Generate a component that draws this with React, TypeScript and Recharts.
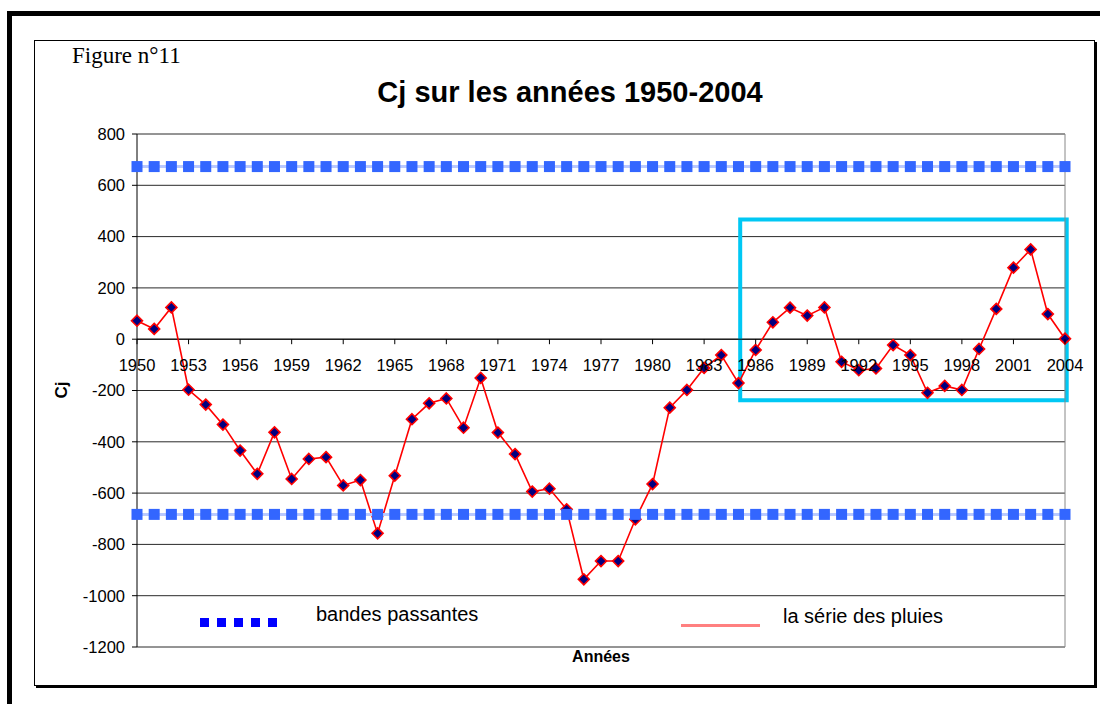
import React from "react"
import { LineChart, Line, XAxis, YAxis, CartesianGrid, ReferenceLine, ReferenceArea } from "recharts"

// years of the series
const years = [
  1950, 1951, 1952, 1953, 1954, 1955, 1956, 1957, 1958, 1959,
  1960, 1961, 1962, 1963, 1964, 1965, 1966, 1967, 1968, 1969,
  1970, 1971, 1972, 1973, 1974, 1975, 1976, 1977, 1978, 1979,
  1980, 1981, 1982, 1983, 1984, 1985, 1986, 1987, 1988, 1989,
  1990, 1991, 1992, 1993, 1994, 1995, 1996, 1997, 1998, 1999,
  2000, 2001, 2002, 2003, 2004,
]

// Cj values
const cjValues = [
  72, 40, 124, -197, -255, -333, -434, -525, -363, -545,
  -467, -460, -570, -549, -757, -532, -312, -250, -231, -345,
  -151, -364, -448, -594, -583, -663, -936, -865, -865, -702,
  -565, -267, -198, -112, -62, -171, -42, 66, 123, 92,
  124, -88, -121, -114, -23, -62, -209, -182, -198, -38,
  118, 279, 350, 98, 2,
]

// bandes passantes (upper / lower limits)
const bandUpper = 673
const bandLower = -683

const xTicks = [1950, 1953, 1956, 1959, 1962, 1965, 1968, 1971, 1974, 1977, 1980, 1983, 1986, 1989, 1992, 1995, 1998, 2001, 2004]
const yTicks = [800, 600, 400, 200, 0, -200, -400, -600, -800, -1000, -1200]

// highlighted period (cyan box)
const boxYears = [1985.1, 2004.1]
const boxCj = [467, -238]

const data = years.map((year, i) => ({
  year,
  cj: cjValues[i],
  upper: bandUpper,
  lower: bandLower,
}))

const FONT = "'Liberation Sans', Arial, sans-serif"
const PLOT_TOP = 134
const PLOT_BOTTOM = 647
const Y_MAX = 800
const Y_MIN = -1200
// pixel row of the zero line, where the year labels hang
const zeroY = PLOT_TOP + ((PLOT_BOTTOM - PLOT_TOP) * Y_MAX) / (Y_MAX - Y_MIN)

const Diamond = (props: any) => {
  const { cx, cy, index } = props
  if (cx == null || cy == null) return <g key={index} />
  const r = 5.5
  return (
    <polygon
      key={index}
      points={`${cx},${cy - r} ${cx + r},${cy} ${cx},${cy + r} ${cx - r},${cy}`}
      fill="#000080"
      stroke="#ff0000"
      strokeWidth={1.6}
    />
  )
}

const Square = (props: any) => {
  const { cx, cy, index } = props
  if (cx == null || cy == null) return <g key={index} />
  return <rect key={index} x={cx - 5.5} y={cy - 5.5} width={11} height={11} fill="#3366ff" />
}

const YearTick = (props: any) => {
  const { x, payload } = props
  return (
    <g>
      <line x1={x} x2={x} y1={zeroY} y2={zeroY + 5} stroke="#000" />
      <text x={x} y={zeroY + 32} textAnchor="middle" fontSize={16.5} fontFamily={FONT} fill="#000">
        {payload.value}
      </text>
    </g>
  )
}

const ChartLegend = () => (
  <div style={{ position: "absolute", left: 0, top: 603, width: 1100, height: 40, fontFamily: FONT, fontSize: 20, color: "#000" }}>
    {[0, 1, 2, 3, 4].map((i) => (
      <div key={i} style={{ position: "absolute", left: 200 + i * 17, top: 15, width: 9, height: 9, background: "#0000ff" }} />
    ))}
    <div style={{ position: "absolute", left: 316, top: 0, whiteSpace: "nowrap" }}>bandes passantes</div>
    <div style={{ position: "absolute", left: 681, top: 21, width: 79, height: 3, background: "#ff8080" }} />
    <div style={{ position: "absolute", left: 783, top: 2, whiteSpace: "nowrap" }}>la série des pluies</div>
  </div>
)

export default function App() {
  return (
    <div style={{ position: "absolute", left: 0, top: 0, width: 1100, height: 704, overflow: "hidden", background: "#fff" }}>
      {/* outer page frame */}
      <div style={{ position: "absolute", left: 7, top: 11, width: 1120, height: 720, border: "5px solid #000" }} />
      {/* chart area frame */}
      <div
        style={{
          position: "absolute",
          left: 34,
          top: 40,
          width: 1059,
          height: 644,
          border: "1px solid #000",
          boxShadow: "2px 2px 0 #000",
        }}
      />
      <div style={{ position: "absolute", left: 72, top: 43, fontFamily: "'Liberation Serif', 'Times New Roman', serif", fontSize: 23 }}>
        Figure n°11
      </div>
      <div
        style={{
          position: "absolute",
          left: 0,
          width: 1140,
          top: 76,
          textAlign: "center",
          fontFamily: FONT,
          fontWeight: "bold",
          fontSize: 29,
        }}
      >
        Cj sur les années 1950-2004
      </div>
      <div
        style={{
          position: "absolute",
          left: 42,
          top: 380,
          width: 40,
          textAlign: "center",
          transform: "rotate(-90deg)",
          fontFamily: FONT,
          fontWeight: "bold",
          fontSize: 17,
        }}
      >
        Cj
      </div>
      <div
        style={{
          position: "absolute",
          left: 501,
          width: 200,
          top: 648,
          textAlign: "center",
          fontFamily: FONT,
          fontWeight: "bold",
          fontSize: 16,
        }}
      >
        Années
      </div>
      <div style={{ position: "absolute", left: 0, top: 0 }}>
        <LineChart width={1100} height={704} data={data} margin={{ top: PLOT_TOP, right: 35, bottom: 704 - PLOT_BOTTOM - 30, left: 0 }}>
          <CartesianGrid horizontal vertical={false} stroke="#2a2a2a" />
          <XAxis
            dataKey="year"
            type="number"
            domain={[1950, 2004]}
            ticks={xTicks}
            interval={0}
            height={30}
            axisLine={false}
            tickLine={false}
            tick={<YearTick />}
          />
          <YAxis
            type="number"
            domain={[Y_MIN, Y_MAX]}
            ticks={yTicks}
            interval={0}
            width={137}
            tickSize={5}
            tickMargin={7}
            axisLine={{ stroke: "#000" }}
            tickLine={{ stroke: "#000" }}
            tick={{ fontSize: 16.5, fontFamily: FONT, fill: "#000" }}
          />
          <ReferenceLine x={2004} stroke="#888" />
          <ReferenceLine y={0} stroke="#000" />
          <Line
            dataKey="cj"
            stroke="#ff0000"
            strokeWidth={1.6}
            dot={<Diamond />}
            isAnimationActive={false}
          />
          <Line dataKey="upper" stroke="#b9c9ff" strokeWidth={3} dot={<Square />} isAnimationActive={false} />
          <Line dataKey="lower" stroke="#b9c9ff" strokeWidth={3} dot={<Square />} isAnimationActive={false} />
          <ReferenceArea
            x1={boxYears[0]}
            x2={boxYears[1]}
            y1={boxCj[0]}
            y2={boxCj[1]}
            ifOverflow="visible"
            fill="none"
            stroke="#00c8f4"
            strokeWidth={4}
          />
        </LineChart>
      </div>
      <ChartLegend />
    </div>
  )
}
